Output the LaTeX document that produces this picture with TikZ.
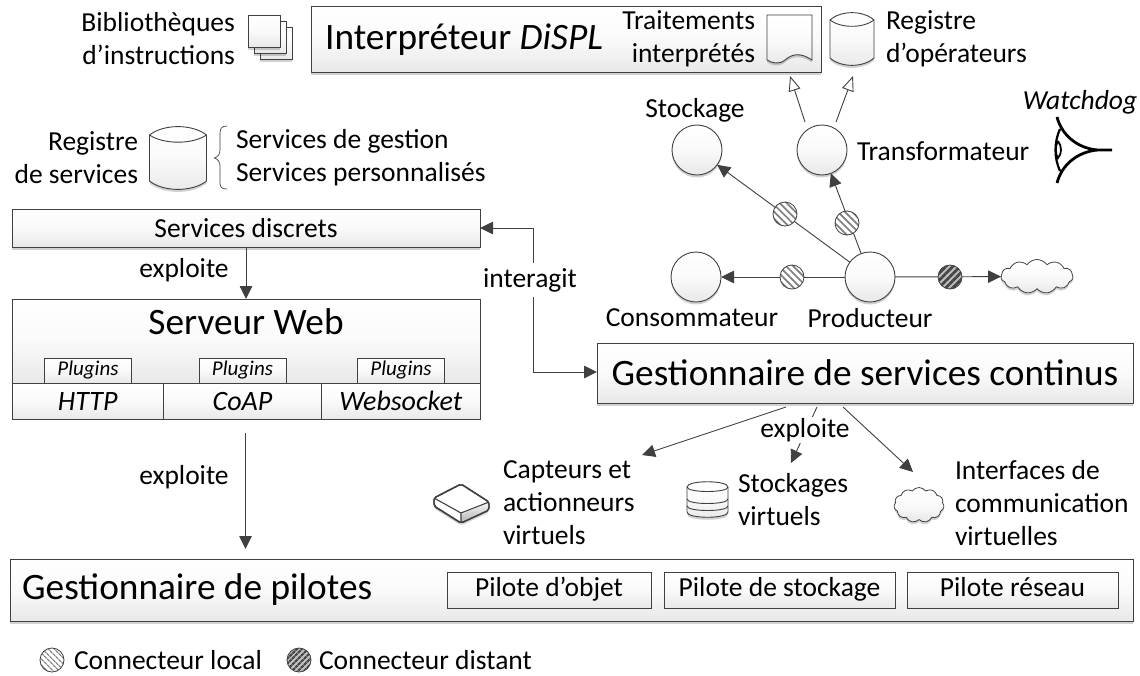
\documentclass[tikz,border=0pt]{standalone}
\usepackage{fontspec}
\setmainfont{Carlito}
\usetikzlibrary{arrows.meta,shadows,shapes.symbols,patterns.meta}
\definecolor{ln}{HTML}{404040}
\newcommand{\fs}[2]{\fontsize{#1}{#2}\selectfont}
\tikzset{
  shade box/.style={top color=white,bottom color=black!9,middle color=black!2},
  soft/.style={drop shadow={shadow xshift=0pt,shadow yshift=-2.5pt,opacity=.18,fill=black}},
  box/.style={draw=ln,line width=.9pt,shade box,inner sep=0pt,outer sep=0pt,rectangle},
  sbox/.style={box,soft},
  txt/.style={font=\fs{27.5}{33},inner sep=0pt,outer sep=0pt},
  big/.style={font=\fs{37.3}{44},inner sep=0pt},
  pilote/.style={box,minimum height=36pt,font=\fs{27.5}{30},text height=18pt,text depth=6pt},
  proto/.style={box,minimum height=36pt,font=\fs{28}{34}\itshape,text height=18pt,text depth=1pt},
  rond/.style={circle,draw=ln,line width=.9pt,shade box,soft,minimum size=50pt,inner sep=0pt,outer sep=0pt},
  lnk/.style={draw=ln,line width=.9pt},
  arr/.style={lnk,-{Triangle[length=13pt,width=12.5pt,color=ln]}},
  oarr/.style={lnk,-{Triangle[open,length=15pt,width=12pt,fill=white,color=ln]}},
  local/.style={circle,draw=ln,line width=.8pt,minimum size=24pt,inner sep=0pt,preaction={fill=white},
    pattern={Lines[angle=-45,distance=5pt,line width=1.7pt]},pattern color=black!50},
  distant/.style={circle,draw=ln,line width=.8pt,minimum size=24pt,inner sep=0pt,preaction={fill=black!25},
    pattern={Lines[angle=45,distance=5pt,line width=2.8pt]},pattern color=black!72},
  nuage/.style={cloud,cloud puffs=11,cloud puff arc=110,draw=ln,line width=.8pt,shade box,soft,inner sep=0pt,outer sep=0pt},
}
% #1 x-left, #2 y-top, #3 width, #4 height, #5 lens depth
\newcommand{\cylindre}[5]{%
  \path[draw=ln,line width=.9pt,shade box,soft]
    (#1,#2+#5) .. controls (#1+.25*#3,#2-#5*.4) and (#1+.75*#3,#2-#5*.4) .. (#1+#3,#2+#5)
    -- (#1+#3,#2+#4-#5) .. controls (#1+.75*#3,#2+#4+#5*.4) and (#1+.25*#3,#2+#4+#5*.4) .. (#1,#2+#4-#5) -- cycle;
  \draw[ln,line width=.9pt] (#1,#2+#5) .. controls (#1+.25*#3,#2+#5*2.2) and (#1+.75*#3,#2+#5*2.2) .. (#1+#3,#2+#5);
}
\begin{document}
\begin{tikzpicture}[x=1pt,y=-1pt]
\useasboundingbox (0,0) rectangle (1140,675);
\fill[white] (0,0) rectangle (1140,675);

% Interprete
\node[sbox,minimum width=510pt,minimum height=66pt] (interp) at (566,39) {};
\node[big,anchor=west] (interpt) at (325,40) {Interpréteur \textit{DiSPL}};
\node[txt,anchor=east,align=right] (trait) at (755,39) {Traitements\\interprétés};
\path[draw=ln,line width=.9pt,shade box,soft] (767,15) -- (812,15) -- (812,60)
  .. controls (800,52) and (792,54) .. (785,60) .. controls (779,65) and (772,63) .. (767,60) -- cycle;
\cylindre{830}{13}{44}{52}{7}
\node[txt,anchor=west,align=left] (regop) at (886,39) {Registre\\d’opérateurs};

\node[txt,anchor=east,align=right] (biblio) at (235,39) {Bibliothèques\\d’instructions};
\node[sbox,minimum width=32pt,minimum height=32pt] (s3) at (276,43.5) {};
\node[sbox,minimum width=32pt,minimum height=32pt] (s2) at (270,37) {};
\node[sbox,minimum width=32pt,minimum height=32pt] (s1) at (264,31) {};

% Registre de services
\node[txt,anchor=east,align=right] (regserv) at (138,158) {Registre\\de services};
\cylindre{149.5}{127}{57}{62}{8}
\draw[ln,line width=.7pt] (227,126) .. controls (221,126) and (220,129) .. (220,134) -- (220,150)
  .. controls (220,154) and (218,157) .. (214.5,158) .. controls (218,159) and (220,162) .. (220,166)
  -- (220,182) .. controls (220,187) and (221,189) .. (227,189);
\node[txt,anchor=west,align=left] (servs) at (236,158) {Services de gestion\\Services personnalisés};

% Services discrets
\node[sbox,minimum width=468pt,minimum height=38pt,font=\fs{27.5}{30}] (discrets) at (246,228) {Services discrets};

% Serveur Web
\node[box,minimum width=468pt,minimum height=84pt] (web) at (246,341) {};
\node[big,anchor=center] (webt) at (246,322) {Serveur Web};
\foreach \n/\x in {p1/88,p2/242.5,p3/401}
  \node[box,minimum width=87pt,minimum height=25pt,font=\fs{21}{24}\itshape] (\n) at (\x,370.5) {Plugins};
\node[proto,minimum width=151.5pt] (http) at (87.75,401.5) {HTTP};
\node[proto,minimum width=158pt] (coap) at (242.5,401.5) {CoAP};
\node[proto,minimum width=158.5pt] (wsock) at (400.75,401.5) {Websocket};

% Gestionnaire de pilotes
\node[sbox,minimum width=1123pt,minimum height=62pt] (pilotes) at (571.5,590) {};
\node[big,anchor=west] (pilt) at (22,590) {Gestionnaire de pilotes};
\node[pilote,minimum width=204pt] (pobj) at (549,590) {Pilote d’objet};
\node[pilote,minimum width=231pt] (psto) at (779.5,590) {Pilote de stockage};
\node[pilote,minimum width=211pt] (pres) at (1012.5,590) {Pilote réseau};

% liens gauche
\coordinate (webtop) at (246,299);
\coordinate (dsb) at (246,247);
\draw[arr] (dsb) -- (webtop);
\node[txt] (expl1) at (184,270) {exploite};
\coordinate (wb) at (245.5,433);
\coordinate (pt) at (245.5,549);
\draw[arr] (wb) -- (pt);
\node[txt] (expl2) at (184,477) {exploite};

% Gestionnaire de services continus
\node[sbox,minimum width=536pt,minimum height=60pt,font=\fs{37.3}{44}] (gsc) at (865,373) {Gestionnaire de services continus};

\coordinate (i1) at (480,228);
\coordinate (i2) at (597,372);
\draw[lnk,{Triangle[length=13pt,width=12.5pt,color=ln]}-{Triangle[length=13pt,width=12.5pt,color=ln]}] (i1) -- (533,228) -- (533,372) -- (i2);
\node[txt,fill=white,minimum height=34pt] (inter) at (530,280) {interagit};

% Graphe
\node[rond] (stock) at (697,150) {};
\node[rond] (transf) at (822,150) {};
\node[rond] (conso) at (696,277) {};
\node[rond] (prod) at (870,277) {};
\node[nuage,minimum width=72pt,minimum height=34pt] (net) at (1037,276.5) {};
\node[txt] (stockt) at (695,110) {Stockage};
\node[txt,anchor=west] (transft) at (857,151) {Transformateur};
\node[txt] (consot) at (692,318) {Consommateur};
\node[txt] (prodt) at (870,318) {Producteur};

\draw[arr] (prod) -- (stock);
\draw[arr] (prod) -- (transf);
\draw[arr] (prod) -- (conso);
\draw[arr] (prod) -- (net);
\node[local] (c1) at (785,214) {};
\node[local] (c2) at (847,223) {};
\node[local] (c3) at (792,277) {};
\node[distant] (c4) at (950,277) {};

\coordinate (o1a) at (805,122);
\coordinate (o1b) at (790,76);
\coordinate (o2a) at (836,122);
\coordinate (o2b) at (853,76);
\draw[oarr] (o1a) -- (o1b);
\draw[oarr] (o2a) -- (o2b);

% Watchdog
\node[font=\fs{27.5}{30}\itshape,inner sep=0pt] (wd) at (1080,102) {Watchdog};
\draw[black,line width=2.8pt] (1057,117) .. controls (1062,136) and (1078,148) .. (1097,150) -- (1112,150);
\draw[black,line width=2.8pt] (1057,183) .. controls (1062,164) and (1078,152) .. (1097,150);
\draw[black,line width=2.2pt] (1060,129) .. controls (1054,142) and (1054,158) .. (1060,171);
\draw[black,line width=1.8pt] (1058,141) .. controls (1062,146) and (1062,154) .. (1058,158) .. controls (1055,154) and (1055,146) .. (1058,141);

% Fleches du bas
\coordinate (a1s) at (786,407);
\coordinate (a1e) at (642,455);
\coordinate (a2s) at (817,407);
\coordinate (a2e) at (791,463);
\coordinate (a3s) at (843,407);
\coordinate (a3e) at (913,472);
\draw[arr] (a1s) -- (a1e);
\draw[arr] (a2s) -- (a2e);
\draw[arr] (a3s) -- (a3e);
\node[txt,fill=white,inner xsep=1pt,inner ysep=1pt] (expl3) at (805,430) {exploite};

% Capteurs
\path[draw=ln,line width=1.4pt,fill=white,rounded corners=2pt,soft]
  (461,484) -- (489,502) -- (489,510) -- (461,523) -- (434,506) -- (434,498) -- cycle;
\path[top color=black!5,bottom color=black!28,rounded corners=1pt] (461.5,514) -- (488,503) -- (488,510) -- (461.5,522) -- cycle;
\draw[ln,line width=1.1pt] (434,498) -- (461,513) -- (461,522);
\draw[ln,line width=1.1pt] (461,513) -- (489,502);
\draw[ln,line width=1.4pt,rounded corners=2pt] (461,484) -- (489,502) -- (489,510) -- (461,523) -- (434,506) -- (434,498) -- cycle;
\node[txt,anchor=west,align=left] (capt) at (503,503) {Capteurs et\\actionneurs\\virtuels};

% Stockages
\path[draw=ln,line width=.9pt,shade box,soft]
  (687,487) .. controls (687,480) and (728,480) .. (728,487) -- (728,512) .. controls (728,519) and (687,519) .. (687,512) -- cycle;
\draw[ln,line width=.9pt] (687,487) .. controls (687,493) and (728,493) .. (728,487);
\draw[ln,line width=.9pt] (687,499) .. controls (687,505) and (728,505) .. (728,499);
\draw[ln,line width=.9pt] (687,506) .. controls (687,512) and (728,512) .. (728,506);
\node[txt,anchor=west,align=left] (stov) at (738,500) {Stockages\\virtuels};

% Interfaces
\node[nuage,minimum width=50pt,minimum height=35pt] (cl2) at (919,505) {};
\node[txt,anchor=west,align=left] (itf) at (955,503) {Interfaces de\\communication\\virtuelles};

% Legende
\node[local,minimum size=24pt,pattern={Lines[angle=-45,distance=4pt,line width=1.3pt]},pattern color=black!50] (lg1) at (52,660) {};
\node[txt,anchor=west] (lg1t) at (74,660) {Connecteur local};
\node[distant,minimum size=24pt,pattern={Lines[angle=45,distance=4pt,line width=2.2pt]}] (lg2) at (299,660) {};
\node[txt,anchor=west] (lg2t) at (319,660) {Connecteur distant};
\end{tikzpicture}
\end{document}
